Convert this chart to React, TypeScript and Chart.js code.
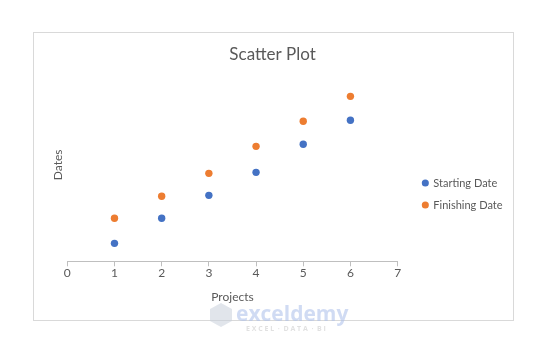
import React, { useEffect, useRef } from "react";
import { Chart, registerables } from "chart.js";

Chart.register(...registerables);

const projects = [1, 2, 3, 4, 5, 6];
const startingDates = [9.3, 22.3, 34.2, 46.1, 60.7, 73.1];
const finishingDates = [22.3, 33.7, 45.6, 59.6, 72.6, 85.5];
const xTickValues = [0, 1, 2, 3, 4, 5, 6, 7];
const seriesNames = ["Starting Date", "Finishing Date"];
const seriesColors = ["#4472C4", "#ED7D31"];
const chartTitle = "Scatter Plot";
const xTitle = "Projects";
const yTitle = "Dates";

const TEXT = "#595959";
const FONT = "Lato, 'Open Sans', sans-serif";

const framePlugin = {
  id: "frame",
  beforeDraw(chart: any) {
    const ctx = chart.ctx;
    ctx.save();
    ctx.fillStyle = "#ffffff";
    ctx.fillRect(0, 0, chart.width, chart.height);
    ctx.strokeStyle = "#D9D9D9";
    ctx.lineWidth = 1;
    ctx.strokeRect(33.5, 32.5, 480, 288);
    ctx.restore();
  },
  afterLayout(chart: any) {
    // Excel leaves a small gap between the plot area and the legend
    const lg = chart.legend;
    if (lg) {
      lg.left += 14.2;
      lg.right += 14.2;
    }
  },
  afterDraw(chart: any) {
    const ctx = chart.ctx;
    ctx.save();
    // faint watermark
    ctx.globalAlpha = 0.55;
    ctx.fillStyle = "#C9CFDA";
    ctx.beginPath();
    ctx.moveTo(221, 303);
    ctx.lineTo(232, 309);
    ctx.lineTo(232, 321);
    ctx.lineTo(221, 327);
    ctx.lineTo(210, 321);
    ctx.lineTo(210, 309);
    ctx.closePath();
    ctx.fill();
    ctx.fillStyle = "#A9BDE9";
    ctx.font = "bold 21px 'Open Sans', sans-serif";
    ctx.textBaseline = "alphabetic";
    ctx.fillText("exceldemy", 236, 321);
    ctx.fillStyle = "#C8C8C8";
    ctx.font = "bold 7px 'Open Sans', sans-serif";
    ctx.fillText("E X C E L  ·  D A T A  ·  B I", 246, 331);
    ctx.restore();
  },
};

export default function App() {
  const ref = useRef<HTMLCanvasElement>(null);

  useEffect(() => {
    if (!ref.current) return;
    const chart = new Chart(ref.current, {
      type: "scatter",
      data: {
        datasets: [
          {
            label: seriesNames[0],
            data: projects.map((x, i) => ({ x, y: startingDates[i] })),
            backgroundColor: seriesColors[0],
            borderColor: seriesColors[0],
            borderWidth: 0,
            pointRadius: 3.7,
            pointBorderWidth: 0,
          },
          {
            label: seriesNames[1],
            data: projects.map((x, i) => ({ x, y: finishingDates[i] })),
            backgroundColor: seriesColors[1],
            borderColor: seriesColors[1],
            borderWidth: 0,
            pointRadius: 3.7,
            pointBorderWidth: 0,
          },
        ],
      },
      options: {
        responsive: false,
        animation: false,
        layout: { padding: { top: 40, bottom: 1, left: 46.9, right: 51.7 } },
        plugins: {
          title: {
            display: true,
            text: chartTitle,
            color: TEXT,
            font: { family: FONT, size: 17, weight: "normal" },
            padding: { top: 4, bottom: 4 },
          },
          legend: {
            position: "right",
            align: "center",
            labels: {
              usePointStyle: true,
              pointStyle: "circle",
              boxWidth: 5,
              boxHeight: 5,
              padding: 11,
              color: TEXT,
              font: { family: FONT, size: 11 },
            },
          },
          tooltip: { enabled: false },
        },
        scales: {
          x: {
            type: "linear",
            position: "bottom",
            min: 0,
            max: 7,
            afterBuildTicks: (s: any) => {
              s.ticks = xTickValues.map((v) => ({ value: v }));
            },
            ticks: {
              color: TEXT,
              padding: 0,
              font: { family: FONT, size: 12 },
              maxRotation: 0,
            },
            grid: {
              display: true,
              drawOnChartArea: false,
              drawTicks: true,
              tickLength: 5,
              color: "#BFBFBF",
            },
            border: { display: true, color: "#BFBFBF" },
            title: {
              display: true,
              text: xTitle,
              color: TEXT,
              font: { family: FONT, size: 12 },
              padding: { top: 9.1, bottom: 43.8 },
            },
          },
          y: {
            type: "linear",
            position: "left",
            min: 0,
            max: 100,
            ticks: { display: false },
            grid: { display: false, drawTicks: false },
            border: { display: false },
            title: {
              display: true,
              text: yTitle,
              color: TEXT,
              font: { family: FONT, size: 12 },
              padding: { top: 4, bottom: 2 },
            },
          },
        },
      },
      plugins: [framePlugin],
    });
    return () => chart.destroy();
  }, []);

  return (
    <div style={{ position: "fixed", left: 0, top: 0, width: 550, height: 349, background: "#fff" }}>
      <canvas ref={ref} width={550} height={349} style={{ width: 550, height: 349, display: "block" }} />
    </div>
  );
}
